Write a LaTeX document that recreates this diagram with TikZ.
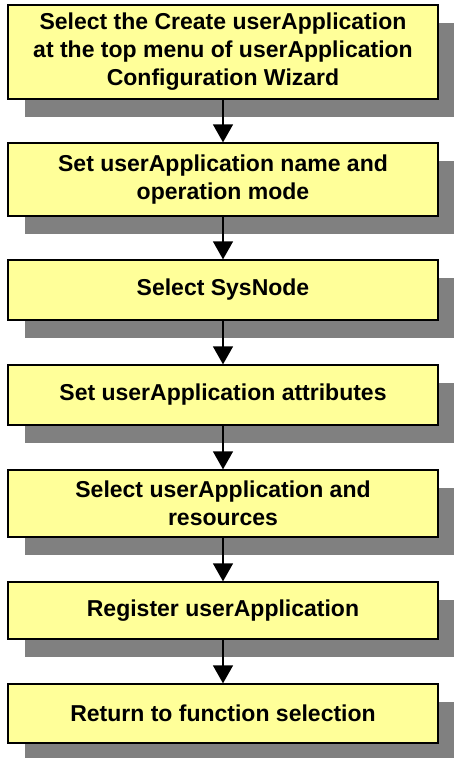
\documentclass[tikz,border=0pt]{standalone}
\usepackage{fontspec}
\setmainfont{Liberation Sans}
\usetikzlibrary{arrows.meta,shadows}
\definecolor{boxyellow}{RGB}{255,255,153}
\definecolor{shadowgray}{RGB}{128,128,128}
\begin{document}
\begin{tikzpicture}[x=1pt,y=1pt,
  stepbox/.style={draw=black, line width=1.3pt, fill=boxyellow, minimum width=430pt,
    align=center, inner sep=0pt, font=\fontsize{23}{28}\selectfont\bfseries,
    general shadow={shadow xshift=17pt, shadow yshift=-18pt, fill=shadowgray, draw=none, opacity=1}},
  flow/.style={line width=1.3pt, -{Triangle[width=20pt,length=18pt]}}]
\useasboundingbox (0,0) rectangle (453,-758);
\node[stepbox, minimum height=94pt] (b1) at (223,-52) {Select the Create userApplication\\at the top menu of userApplication\\Configuration Wizard};
\node[stepbox, minimum height=73pt] (b2) at (223,-179.5) {Set userApplication name and\\operation mode};
\node[stepbox, minimum height=60pt] (b3) at (223,-290) {Select SysNode};
\node[stepbox, minimum height=60pt] (b4) at (223,-395) {Set userApplication attributes};
\node[stepbox, minimum height=67pt] (b5) at (223,-503.5) {Select userApplication and\\resources};
\node[stepbox, minimum height=57pt] (b6) at (223,-610.5) {Register userApplication};
\node[stepbox, minimum height=59pt] (b7) at (223,-713.5) {Return to function selection};
\draw[flow] (b1) -- (b2);
\draw[flow] (b2) -- (b3);
\draw[flow] (b3) -- (b4);
\draw[flow] (b4) -- (b5);
\draw[flow] (b5) -- (b6);
\draw[flow] (b6) -- (b7);
\end{tikzpicture}
\end{document}
